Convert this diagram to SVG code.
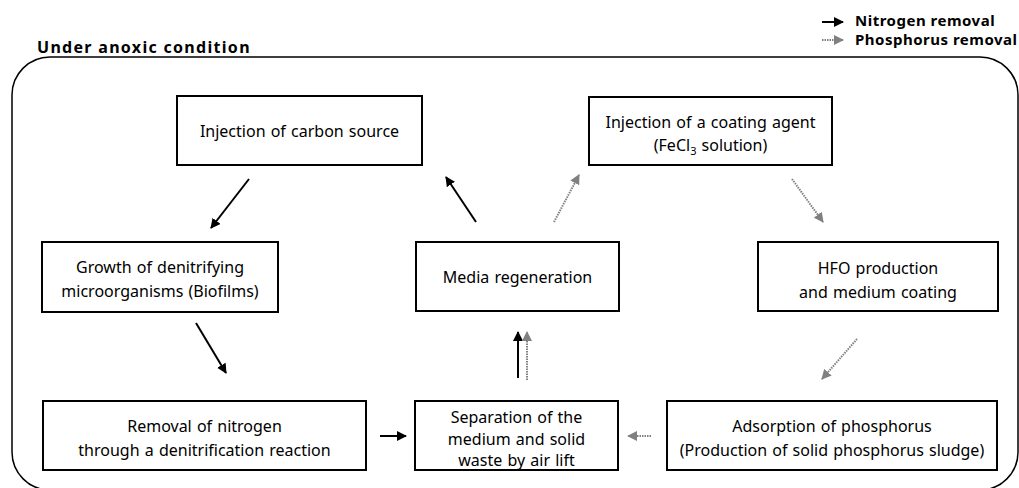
<svg xmlns="http://www.w3.org/2000/svg" width="1019" height="488" viewBox="0 0 1019 488">
<style>
.box{fill:#fff;stroke:#000;stroke-width:2}
.t{font-family:"Noto Sans","Open Sans",sans-serif;font-size:16px;fill:#000;text-anchor:middle;word-spacing:1px}
.b{font-family:"Noto Sans","Open Sans",sans-serif;font-size:15px;font-weight:bold;fill:#000;letter-spacing:0.5px}
.n{stroke:#000;stroke-width:2;fill:none;marker-end:url(#ah)}
.p{stroke:#808080;stroke-width:2;stroke-dasharray:1.5,1;fill:none;marker-end:url(#ag)}
</style>
<defs>
<marker id="ah" viewBox="0 0 10 10" refX="9" refY="5" markerWidth="5" markerHeight="5" markerUnits="strokeWidth" orient="auto"><path d="M0,0 L10,5 L0,10 z" fill="#000"/></marker>
<marker id="ag" viewBox="0 0 10 10" refX="9" refY="5" markerWidth="5" markerHeight="5" markerUnits="strokeWidth" orient="auto"><path d="M0,0 L10,5 L0,10 z" fill="#808080"/></marker>
</defs>
<rect width="1019" height="488" fill="#fff"/>
<g id="legend">
<line class="n" x1="822" y1="22" x2="843" y2="22"/>
<line class="p" x1="822" y1="40" x2="843" y2="40"/>
<text class="b" x="855" y="26">Nitrogen removal</text>
<text class="b" x="855" y="45">Phosphorus removal</text>
</g>
<g id="frame">
<text class="b" x="37" y="53" style="font-size:16px;letter-spacing:1.3px">Under anoxic condition</text>
<rect x="12" y="57" width="1006" height="433" rx="38" ry="38" fill="none" stroke="#000" stroke-width="1.5"/>
</g>
<g id="n1"><rect class="box" x="177" y="96" width="245" height="69"/><text class="t" x="299.5" y="137">Injection of carbon source</text></g>
<g id="n2"><rect class="box" x="589" y="97" width="243" height="68"/><text class="t" x="710.5" y="128">Injection of a coating agent</text><text class="t" x="710.5" y="151">(FeCl<tspan font-size="11" dy="4">3</tspan><tspan dy="-4"> solution)</tspan></text></g>
<g id="n3"><rect class="box" x="42" y="242" width="236" height="70"/><text class="t" x="160" y="273">Growth of denitrifying</text><text class="t" x="160" y="297">microorganisms (Biofilms)</text></g>
<g id="n4"><rect class="box" x="416" y="242" width="203" height="69"/><text class="t" x="517.5" y="283">Media regeneration</text></g>
<g id="n5"><rect class="box" x="758" y="242" width="240" height="69"/><text class="t" x="878" y="274">HFO production</text><text class="t" x="878" y="298">and medium coating</text></g>
<g id="n6"><rect class="box" x="43" y="401" width="323" height="69"/><text class="t" x="204.5" y="432">Removal of nitrogen</text><text class="t" x="204.5" y="456">through a denitrification reaction</text></g>
<g id="n7"><rect class="box" x="415" y="401" width="203" height="69"/><text class="t" x="516.5" y="423">Separation of the</text><text class="t" x="516.5" y="445">medium and solid</text><text class="t" x="516.5" y="466">waste by air lift</text></g>
<g id="n8"><rect class="box" x="667" y="401" width="330" height="69"/><text class="t" x="832" y="432">Adsorption of phosphorus</text><text class="t" x="832" y="456">(Production of solid phosphorus sludge)</text></g>
<g id="connectors">
<line class="n" x1="249" y1="179" x2="211" y2="228"/>
<line class="n" x1="196" y1="323" x2="226" y2="373"/>
<line class="n" x1="476" y1="222" x2="446" y2="177"/>
<line class="p" x1="554" y1="222" x2="579" y2="175"/>
<line class="p" x1="792" y1="179" x2="823" y2="222"/>
<line class="p" x1="857" y1="339" x2="822" y2="379"/>
<line class="n" x1="518" y1="378" x2="518" y2="332"/>
<line class="p" x1="527" y1="380" x2="527" y2="332"/>
<line class="n" x1="380" y1="436" x2="406" y2="436"/>
<line class="p" x1="651" y1="436" x2="628" y2="436"/>
</g>
</svg>
